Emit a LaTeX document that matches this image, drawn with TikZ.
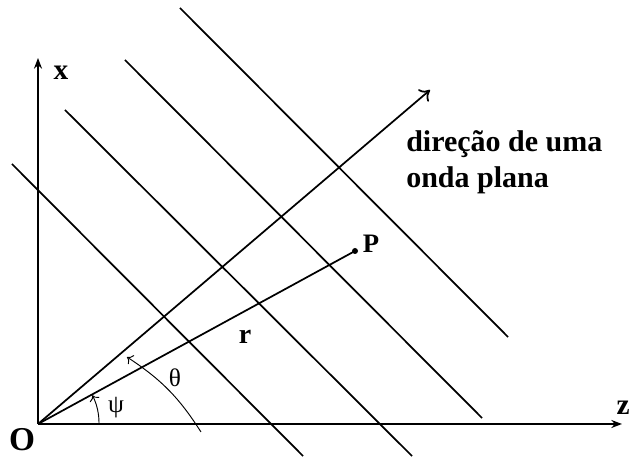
\documentclass[tikz,border=0pt]{standalone}
\usepackage{fontspec}
\setmainfont{Liberation Serif}
\usepackage{tikz}
\usetikzlibrary{arrows.meta}

\tikzset{
  axis/.style={line width=1.8pt, -{Stealth[length=8pt,width=6pt]}},
  wave/.style={line width=1.3pt},
  ray/.style={line width=1.3pt},
  angarc/.style={line width=0.7pt, -{To[length=4pt,width=8pt]}},
  lbl/.style={inner sep=0pt, font=\bfseries\fontsize{22}{26}\selectfont}
}

\begin{document}
\begin{tikzpicture}[x=0.75pt,y=0.75pt]
\useasboundingbox (0,0) rectangle (631,459);
\clip (0,0) rectangle (631,459);

% origem e pontos
\coordinate (O) at (38,35);
\coordinate (xend) at (38,401);
\coordinate (zend) at (622,35);
\coordinate (dir) at (430,369);
\coordinate (P) at (355,208);

% eixos
\draw[axis] (O) -- (xend);
\draw[axis] (O) -- (zend);

% frentes de onda
\draw[wave] (12,295) -- (303,3);
\draw[wave] (65,349) -- (412,3);
\draw[wave] (125,399) -- (482,41);
\draw[wave] (180,451) -- (508,122);

% direcao e vetor r
\draw[ray, -{To[length=7pt,width=12pt]}] (O) -- (dir);
\draw[ray] (O) -- (P);
\fill (P) circle (3);

% angulos
\draw[angarc] ([shift={(0:61)}]O) arc[start angle=-1, end angle=27, radius=61];
\coordinate (th1) at (201,27);
\coordinate (th2) at (127,102);
\draw[angarc] (th1) to[bend right=12] (th2);

% rotulos
\node[lbl] (xl) at (61,386) {x};
\node[lbl] (zl) at (623,51) {z};
\node[lbl, font=\bfseries\fontsize{25}{29}\selectfont] (Ol) at (22,19) {O};
\node[lbl, font=\bfseries\fontsize{20}{24}\selectfont] (Pl) at (371,215) {P};
\node[lbl, font=\bfseries\fontsize{21}{25}\selectfont] (rl) at (245,122) {r};
\node[inner sep=0pt, font=\fontsize{19}{22}\selectfont] (thl) at (175,81) {θ};
\node[inner sep=0pt, font=\fontsize{19}{22}\selectfont] (psil) at (116,51) {ψ};
\node[lbl, anchor=base west, align=left, font=\bfseries\fontsize{22.5}{27}\selectfont] (txt) at (406,271) {direção de uma\\onda plana};
\end{tikzpicture}
\end{document}
